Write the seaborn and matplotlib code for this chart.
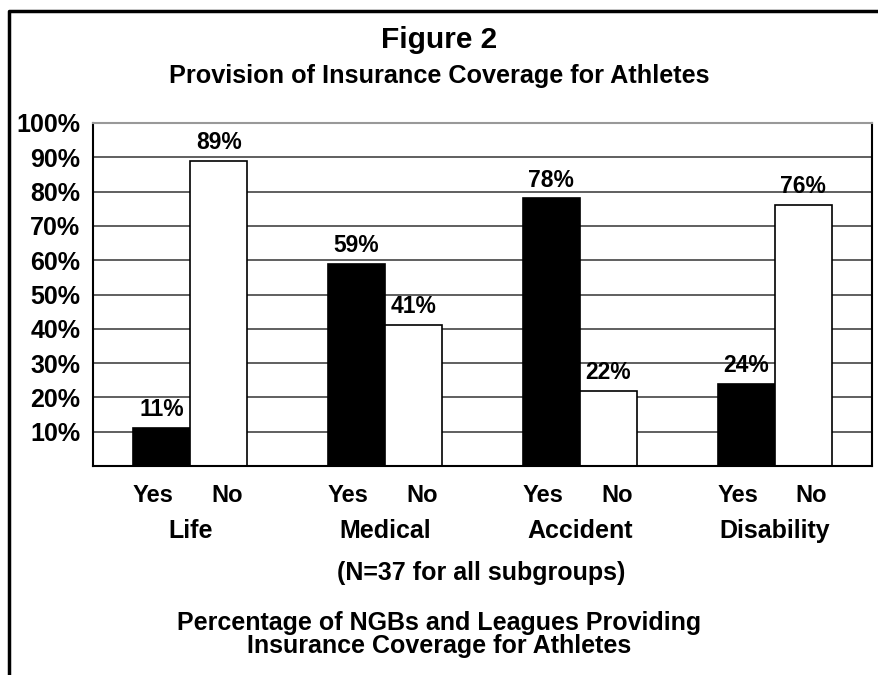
import matplotlib
matplotlib.use("Agg")
import matplotlib.pyplot as plt
import seaborn as sns
import pandas as pd
from matplotlib.lines import Line2D

categories = ["Life", "Medical", "Accident", "Disability"]
answers = ["Yes", "No"]
yes_values = [11, 59, 78, 24]
no_values = [89, 41, 22, 76]
ytick_values = [10, 20, 30, 40, 50, 60, 70, 80, 90, 100]
ytick_labels = ["10%", "20%", "30%", "40%", "50%", "60%", "70%", "80%", "90%", "100%"]

rows = []
for c, y, n in zip(categories, yes_values, no_values):
    rows.append({"Coverage": c, "Answer": "Yes", "Percent": y})
    rows.append({"Coverage": c, "Answer": "No", "Percent": n})
df = pd.DataFrame(rows)

sns.set_style("white")
plt.rcParams["font.family"] = ["Liberation Sans", "DejaVu Sans"]
plt.rcParams["font.weight"] = "bold"
plt.rcParams["text.color"] = "black"
plt.rcParams["ytick.color"] = "black"
plt.rcParams["xtick.color"] = "black"

fig = plt.figure(figsize=(8.79, 6.75), dpi=100)
ax = fig.add_axes([0.1058, 0.3096, 0.8862, 0.5082])

sns.barplot(data=df, x="Coverage", y="Percent", hue="Answer", order=categories,
            hue_order=answers, palette={"Yes": "black", "No": "white"},
            edgecolor="black", linewidth=1.2, width=0.585, ax=ax, legend=False,
            errorbar=None)

ax.set_ylim(0, 100)
ax.set_xlim(-0.5, len(categories) - 0.5)
ax.set_yticks(ytick_values)
ax.set_yticklabels(ytick_labels, fontsize=18, fontweight="bold", color="black")
ax.tick_params(axis="y", length=0, pad=9)
ax.yaxis.grid(True, color="#444444", linewidth=1.2)
ax.set_axisbelow(True)
ax.set_xlabel("")
ax.set_ylabel("")
ax.set_xticks([])

for side in ["left", "bottom", "right"]:
    ax.spines[side].set_color("black")
    ax.spines[side].set_linewidth(1.5)
ax.spines["top"].set_color("#999999")
ax.spines["top"].set_linewidth(1.5)

for cont in ax.containers:
    ax.bar_label(cont, labels=[f"{int(round(b.get_height()))}%" for b in cont],
                 padding=5, fontsize=16.5, fontweight="bold", color="black")

trans = ax.get_xaxis_transform()
label_offsets = {"Yes": -0.19, "No": 0.19}
for i, c in enumerate(categories):
    for ans in answers:
        ax.text(i + label_offsets[ans], -0.104, ans, transform=trans, ha="center",
                va="baseline", fontsize=17, fontweight="bold", color="black")
    ax.text(i, -0.210, c, transform=trans, ha="center", va="baseline",
            fontsize=18, fontweight="bold", color="black")

fig.text(0.5, 0.9284, "Figure 2", ha="center", va="baseline", fontsize=21.5,
         fontweight="bold")
fig.text(0.5, 0.8775, "Provision of Insurance Coverage for Athletes", ha="center",
         va="baseline", fontsize=18.2, fontweight="bold")
fig.text(0.547, 0.1407, "(N=37 for all subgroups)", ha="center", va="baseline",
         fontsize=18, fontweight="bold")
fig.text(0.5, 0.0667, "Percentage of NGBs and Leagues Providing", ha="center",
         va="baseline", fontsize=18, fontweight="bold")
fig.text(0.5, 0.0326, "Insurance Coverage for Athletes", ha="center",
         va="baseline", fontsize=18, fontweight="bold")

fig.add_artist(Line2D([0.0108, 0.0108, 1.0], [0.0, 0.9837, 0.9837],
                      transform=fig.transFigure, color="black", linewidth=2.5))

fig.savefig("out.png", dpi=100)
